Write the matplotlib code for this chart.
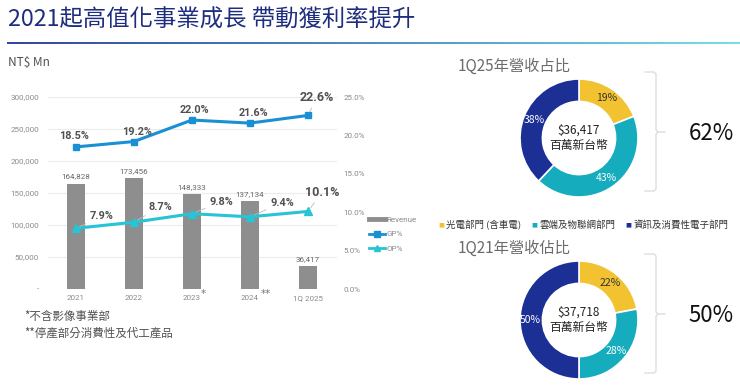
import matplotlib
matplotlib.use("Agg")
import matplotlib.pyplot as plt
import numpy as np
from matplotlib.lines import Line2D
from matplotlib.colors import LinearSegmentedColormap

plt.rcParams['font.family'] = ['Noto Sans CJK TC', 'DejaVu Sans']

# ---------------- data ----------------
categories = ['2021', '2022', '2023', '2024', '1Q 2025']
revenue = [164828, 173456, 148333, 137134, 36417]
gp_pct = [18.5, 19.2, 22.0, 21.6, 22.6]
op_pct = [7.9, 8.7, 9.8, 9.4, 10.1]
left_ticks = [0, 50000, 100000, 150000, 200000, 250000, 300000]
right_ticks = [0, 5, 10, 15, 20, 25]
cat_marks = {2: '*', 3: '**'}

segments = ['光電部門 (含車電)', '雲端及物聯網部門', '資訊及消費性電子部門']
share_1q25 = [19, 43, 38]
share_1q21 = [22, 28, 50]
total_1q25 = '$36,417'
total_1q21 = '$37,718'
big_1q25 = '62%'
big_1q21 = '50%'

title = '2021起高值化事業成長 帶動獲利率提升'
notes = ['*不含影像事業部', '**停產部分消費性及代工產品']

# ---------------- style ----------------
W, H = 740, 388
C_BAR = '#8e8e8e'
C_GP = '#1b8fd4'
C_OP = '#26c4d4'
C_TXT = '#505050'
C_TICK = '#8a8a8a'
SEG_COLORS = ['#f2c230', '#15adbd', '#1c2f95']
NUMFONT = ['Roboto', 'DejaVu Sans']

def fx(x):
    return x / W

def fy(y):
    return 1 - y / H

fig = plt.figure(figsize=(W / 100, H / 100), dpi=100, facecolor='white')

# title
fig.text(fx(8), fy(20), title, fontsize=16.8, color='#1e2d7d', va='center', ha='left',
         fontweight='medium')

# gradient line
gax = fig.add_axes([fx(7), fy(44.5), fx(733), 2.2 / H])
grad = np.linspace(0, 1, 400).reshape(1, -1)
cmap = LinearSegmentedColormap.from_list('g', ['#33489c', '#4f8fc4', '#74e0e4'])
gax.imshow(grad, aspect='auto', cmap=cmap, extent=[0, 1, 0, 1])
gax.axis('off')

fig.text(fx(8), fy(63), 'NT$ Mn', fontsize=8.5, color=C_TXT, va='center', ha='left')

# ---------------- bar + line chart ----------------
ax = fig.add_axes([fx(48), fy(289), fx(337 - 48), (289 - 97) / H])
x = np.arange(len(categories))
ax.bar(x, revenue, width=0.31, color=C_BAR, zorder=2)
ax.set_xlim(-0.48, 4.5)
ax.set_ylim(0, 300000)
ax.set_yticks(left_ticks)
ax.set_yticklabels(['-' if v == 0 else f'{v:,}' for v in left_ticks], family=NUMFONT)
ax.set_xticks(x)
ax.set_xticklabels(categories, family=NUMFONT)
ax.tick_params(axis='both', length=0, labelsize=5.8, labelcolor=C_TICK)
ax.tick_params(axis='y', pad=6.5)
ax.tick_params(axis='x', pad=4.5)
ax.grid(axis='y', color='#ececec', lw=0.8, zorder=0)
ax.set_axisbelow(True)
for s in ax.spines.values():
    s.set_visible(False)

for xi, v in zip(x, revenue):
    ax.annotate(f'{v:,}', (xi, v), xytext=(0, 7), textcoords='offset pixels',
                ha='center', va='center', fontsize=5.8, color='#666666', family=NUMFONT)

mark_dx = {2: 11, 3: 16}
for i, mark in cat_marks.items():
    ax.annotate(mark, (i, 0), xycoords=('data', 'axes fraction'), xytext=(mark_dx[i], -5),
                textcoords='offset pixels', ha='center', va='center', fontsize=7.5,
                color='#777777', family='DejaVu Sans')

ax2 = ax.twinx()
ax2.set_ylim(0, 25)
ax2.set_yticks(right_ticks)
ax2.set_yticklabels([f'{v:.1f}%' for v in right_ticks], family=NUMFONT)
ax2.tick_params(axis='y', length=0, labelsize=5.8, labelcolor=C_TICK, pad=4.5)
for s in ax2.spines.values():
    s.set_visible(False)

ax2.plot(x, gp_pct, color=C_GP, lw=2.2, marker='s', ms=5, zorder=4)
ax2.plot(x, op_pct, color=C_OP, lw=2.2, marker='^', ms=5.5, zorder=4)

gp_off = [(-2, 11), (3, 10), (3, 10), (3, 10), (9, 18)]
gp_size = [7.8, 7.8, 7.8, 7.8, 9]
for i, (v, off) in enumerate(zip(gp_pct, gp_off)):
    arrow = dict(arrowstyle='-', color='#bbbbbb', lw=0.6, shrinkA=1, shrinkB=3) if i == 4 else None
    ax2.annotate(f'{v:.1f}%', (i, v), xytext=off, textcoords='offset pixels',
                 ha='center', va='center', fontsize=gp_size[i], fontweight='bold',
                 color=C_TXT, arrowprops=arrow, family=NUMFONT, zorder=5)

op_off = [(26, 12), (26, 15), (29, 12), (32, 14), (14, 19)]
op_size = [7.8, 7.8, 7.8, 7.8, 9]
for i, (v, off) in enumerate(zip(op_pct, op_off)):
    ax2.annotate(f'{v:.1f}%', (i, v), xytext=off, textcoords='offset pixels',
                 ha='center', va='center', fontsize=op_size[i], fontweight='bold',
                 color=C_TXT, family=NUMFONT, zorder=5,
                 arrowprops=dict(arrowstyle='-', color='#bbbbbb', lw=0.6, shrinkA=1, shrinkB=3))

handles = [Line2D([], [], color=C_BAR, lw=3.5),
           Line2D([], [], color=C_GP, lw=2, marker='s', ms=4),
           Line2D([], [], color=C_OP, lw=2, marker='^', ms=4.5)]
fig.legend(handles, ['Revenue', 'GP%', 'OP%'], loc='upper left',
           bbox_to_anchor=(fx(369), fy(216)), frameon=False,
           prop={'family': NUMFONT, 'size': 5.8},
           labelcolor=C_TICK, handlelength=2.0, handletextpad=0.2,
           labelspacing=1.0, borderpad=0, borderaxespad=0)

# footnotes
fig.text(fx(24), fy(316), notes[0], fontsize=8.3, color=C_TXT, va='center', ha='left')
fig.text(fx(24), fy(333), notes[1], fontsize=8.3, color=C_TXT, va='center', ha='left')

# ---------------- donuts ----------------
def donut(cy, shares, total, head, big):
    r = 59
    cx = 579
    dax = fig.add_axes([fx(cx - r), fy(cy + r), 2 * r / W, 2 * r / H])
    wedges, _, autotexts = dax.pie(shares, colors=SEG_COLORS, startangle=90, counterclock=False,
                                   radius=1, autopct=lambda p: f'{p:.0f}%', pctdistance=0.82,
                                   wedgeprops=dict(width=0.38, edgecolor='white', linewidth=1.2))
    for t, c in zip(autotexts, ['#333333', 'white', 'white']):
        t.set_color(c)
        t.set_fontsize(7.5)
    dax.set_xlim(-1, 1)
    dax.set_ylim(-1, 1)
    dax.text(0, 0.13, total, ha='center', va='center', fontsize=8.5, color='#222222')
    dax.text(0, -0.12, '百萬新台幣', ha='center', va='center', fontsize=8.5, color='#222222')
    fig.text(fx(458), fy(cy - 72), head, fontsize=11, color='#6b6b6b', va='center', ha='left')
    fig.text(fx(711), fy(cy - 4), big, fontsize=16, color='#111111', va='center', ha='center')
    # brace
    top, bot, mid = cy - 66, cy + 53, cy - 6
    bx = 656
    kw = dict(transform=fig.transFigure, color='#dddddd', lw=1)
    fig.add_artist(Line2D([fx(645), fx(bx - 2), fx(bx), fx(bx), fx(bx + 2), fx(bx + 9)],
                          [fy(top), fy(top), fy(top + 2), fy(mid - 2), fy(mid), fy(mid)], **kw))
    fig.add_artist(Line2D([fx(bx + 2), fx(bx), fx(bx), fx(bx - 2), fx(645)],
                          [fy(mid), fy(mid + 2), fy(bot - 2), fy(bot), fy(bot)], **kw))

donut(138, share_1q25, total_1q25, '1Q25年營收占比', big_1q25)
donut(320, share_1q21, total_1q21, '1Q21年營收佔比', big_1q21)

# segment legend
leg_x = [441, 534, 628]
for lx, lab, c in zip(leg_x, segments, SEG_COLORS):
    fig.text(fx(lx), fy(225), '■', fontsize=4.5, color=c, va='center', ha='center',
             family='DejaVu Sans')
    fig.text(fx(lx + 5), fy(225), lab, fontsize=6.8, color='#333333', va='center', ha='left')

fig.savefig('out.png', dpi=100, facecolor='white')
